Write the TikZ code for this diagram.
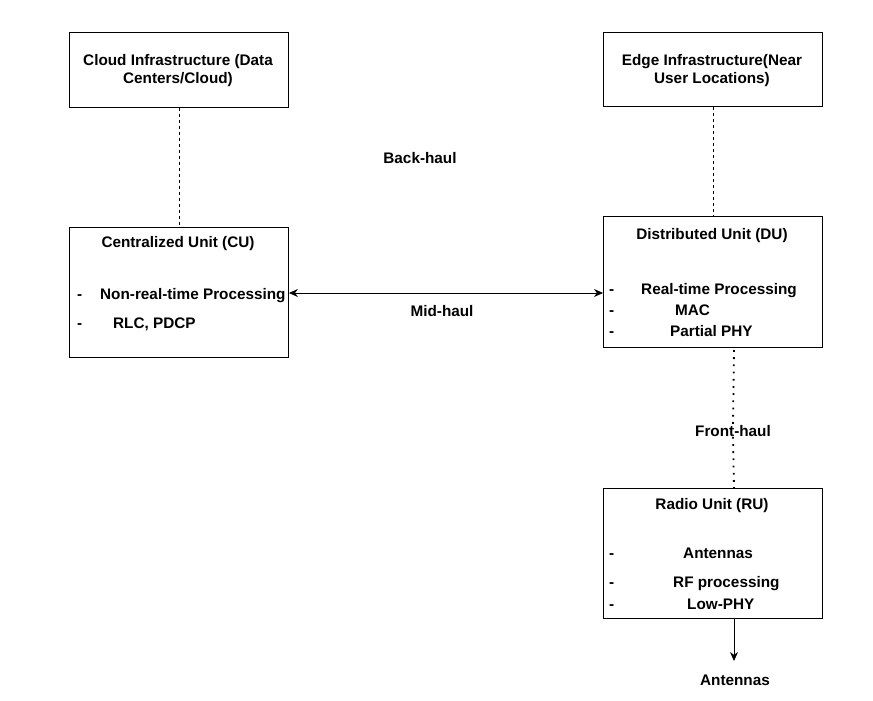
\documentclass[tikz,border=0pt]{standalone}
\usepackage{fontspec}
\setmainfont{Liberation Sans}
\usetikzlibrary{arrows.meta}
\begin{document}
\begin{tikzpicture}[x=1pt,y=-1pt,
  box/.style={draw,line width=0.9pt,minimum width=219pt,inner sep=0pt,anchor=north west},
  lbl/.style={font=\bfseries\fontsize{15.3}{18}\selectfont,inner sep=0pt,align=center},
  bl/.style={lbl,anchor=base west},
  conn/.style={line width=0.8pt},
  bothtips/.style={{Stealth[length=9pt,width=8pt]}-{Stealth[length=9pt,width=8pt]}},
  endtip/.style={-{Stealth[length=9pt,width=8pt]}}]
\useasboundingbox (0,0) rectangle (873,701);
\node[box,minimum height=75pt] (cloud) at (69,32) {};
\node[box,minimum height=74pt] (edge) at (603,32) {};
\node[box,minimum height=130pt] (cu) at (69,227) {};
\node[box,minimum height=131pt] (du) at (603,216) {};
\node[box,minimum height=130pt] (ru) at (603,488) {};
% texts
\node[lbl] (cloudt) at (178,71) {Cloud Infrastructure (Data\\Centers/Cloud)};
\node[lbl] (edget) at (712,71) {Edge Infrastructure(Near\\User Locations)};
\node[lbl] (cut) at (178,244) {Centralized Unit (CU)};
\node[bl] (cud1) at (77,299.5) {-};
\node[bl] (cu1) at (100,299.5) {Non-real-time Processing};
\node[bl] (cud2) at (77,328.5) {-};
\node[bl] (cu2) at (113,328.5) {RLC, PDCP};
\node[lbl] (dut) at (712,236) {Distributed Unit (DU)};
\node[bl] (dud1) at (609,294.5) {-};
\node[bl] (du1) at (641,294.5) {Real-time Processing};
\node[bl] (dud2) at (609,315.5) {-};
\node[bl] (du2) at (675,315.5) {MAC};
\node[bl] (dud3) at (609,336.5) {-};
\node[bl] (du3) at (670,336.5) {Partial PHY};
\node[lbl] (rut) at (712,506) {Radio Unit (RU)};
\node[bl] (rud1) at (609,558.5) {-};
\node[bl] (ru1) at (683,558.5) {Antennas};
\node[bl] (rud2) at (609,587.5) {-};
\node[bl] (ru2) at (673,587.5) {RF processing};
\node[bl] (rud3) at (609,609.5) {-};
\node[bl] (ru3) at (687,609.5) {Low-PHY};
\node[lbl] (backhaul) at (420,158) {Back-haul};
\node[lbl] (midhaul) at (442,311) {Mid-haul};
\node[lbl] (fronthaul) at (733,431) {Front-haul};
\node[lbl] (ant) at (735,680) {Antennas};
% connectors
\draw[conn,dash pattern=on 3pt off 3pt] (cloud.south) -- (cu.north);
\draw[conn,dash pattern=on 3pt off 3pt] (edge.south) -- (du.north);
\draw[conn,bothtips] (cu.east |- 0,293) -- (du.west |- 0,293);
\draw[line width=1.8pt,dash pattern=on 1.8pt off 5.4pt] (734,350) -- (fronthaul.north);
\draw[line width=1.8pt,dash pattern=on 1.8pt off 5.4pt] (fronthaul.south) -- (734,488);
\coordinate (antend) at (734,661);
\draw[conn,endtip] (734,618) -- (antend);
\end{tikzpicture}
\end{document}
